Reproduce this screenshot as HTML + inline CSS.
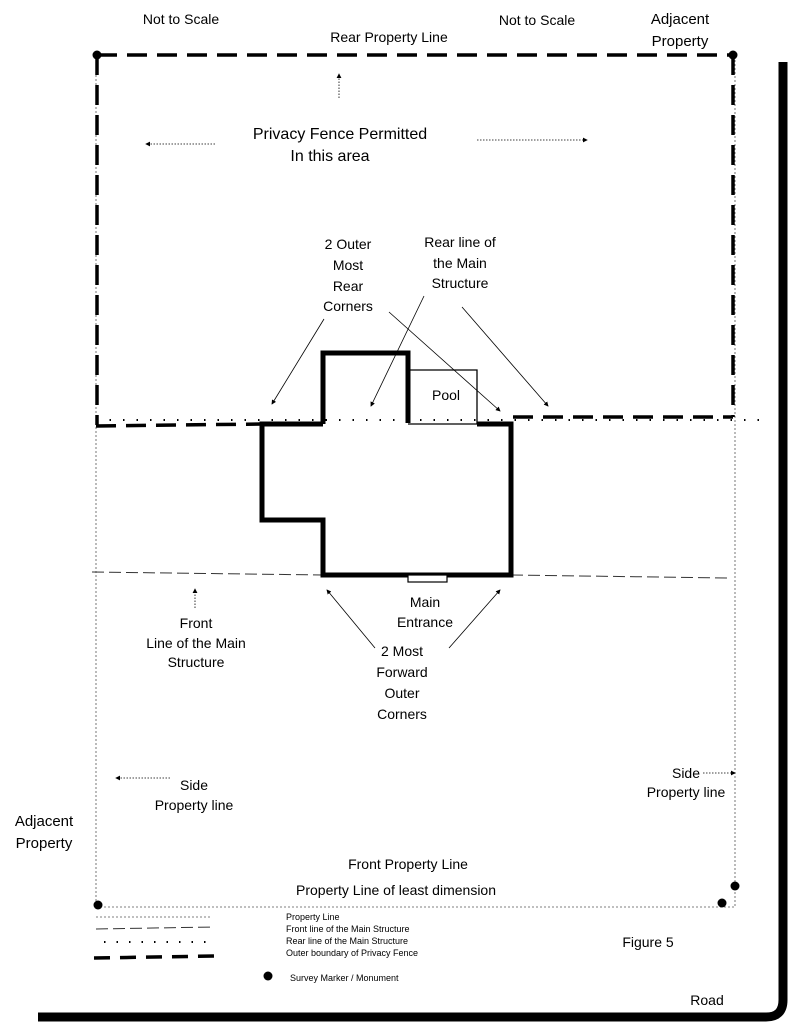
<!DOCTYPE html>
<html><head><meta charset="utf-8"><style>
html,body{margin:0;padding:0;background:#fff;}
svg{display:block;font-family:"Liberation Sans",sans-serif;}
</style></head><body>
<svg width="796" height="1024" viewBox="0 0 796 1024" xmlns="http://www.w3.org/2000/svg">
<defs>
<marker id="a" markerWidth="6" markerHeight="6" refX="5" refY="3" orient="auto"><path d="M0,0 L6,3 L0,6z" fill="#000"/></marker>
</defs>
<g fill="#000" font-size="14" text-anchor="middle">
<text x="181" y="24">Not to Scale</text>
<text x="389" y="42">Rear Property Line</text>
<text x="537" y="25">Not to Scale</text>
<text x="680" y="24" font-size="15">Adjacent</text>
<text x="680" y="46" font-size="15">Property</text>
<text x="340" y="139" font-size="16">Privacy Fence Permitted</text>
<text x="330" y="161" font-size="16">In this area</text>
<text x="348" y="249">2 Outer</text>
<text x="348" y="270">Most</text>
<text x="348" y="291">Rear</text>
<text x="348" y="311">Corners</text>
<text x="460" y="247">Rear line of</text>
<text x="460" y="268">the Main</text>
<text x="460" y="288">Structure</text>
<text x="446" y="400">Pool</text>
<text x="425" y="607">Main</text>
<text x="425" y="627">Entrance</text>
<text x="196" y="628">Front</text>
<text x="196" y="648">Line of the Main</text>
<text x="196" y="667">Structure</text>
<text x="402" y="656">2 Most</text>
<text x="402" y="677">Forward</text>
<text x="402" y="698">Outer</text>
<text x="402" y="719">Corners</text>
<text x="194" y="790">Side</text>
<text x="194" y="810">Property line</text>
<text x="686" y="778">Side</text>
<text x="686" y="797">Property line</text>
<text x="44" y="826" font-size="15">Adjacent</text>
<text x="44" y="848" font-size="15">Property</text>
<text x="408" y="869">Front Property Line</text>
<text x="396" y="895">Property Line of least dimension</text>
<text x="648" y="947">Figure 5</text>
<text x="707" y="1005">Road</text>
</g>
<g fill="#000" font-size="9">
<text x="286" y="920">Property Line</text>
<text x="286" y="932">Front line of the Main Structure</text>
<text x="286" y="944">Rear line of the Main Structure</text>
<text x="286" y="956">Outer boundary of  Privacy Fence</text>
<text x="290" y="981">Survey Marker / Monument</text>
</g>
<!-- property line -->
<g stroke="#555" stroke-width="0.8" stroke-dasharray="2,2" fill="none">
<path d="M96 55 V907 H735 V55"/>
<path d="M96 917 H212"/>
</g>
<!-- fence -->
<g stroke="#000" stroke-width="3.5" stroke-dasharray="20,10" fill="none">
<path d="M97 55 H733"/>
<path d="M97 55 V425"/>
<path d="M733 55 V417"/>
<path d="M96 426 L262 424"/>
<path d="M513 417 L733 417"/>
<path d="M94 958 L215 956" stroke-dasharray="16,10"/>
</g>
<!-- rear line dotted -->
<path d="M96 420 H762" stroke="#000" stroke-width="2" stroke-dasharray="1.5,12" fill="none"/>
<path d="M104 942 H215" stroke="#000" stroke-width="2" stroke-dasharray="1.5,11" fill="none"/>
<!-- front line -->
<g stroke="#333" stroke-width="1" stroke-dasharray="12,5" fill="none">
<path d="M92 572 L323 575"/>
<path d="M511 575 L728 578"/>
<path d="M96 929 L214 927"/>
</g>
<!-- structure -->
<path d="M323 424 V353 H408 V423 M477 424 H511 V575 H323 V520 H262 V424 H323" stroke="#000" stroke-width="5" fill="none"/>
<path d="M408 370 H477 V424 H408" stroke="#000" stroke-width="1.3" fill="none"/>
<rect x="408" y="575" width="39" height="7" stroke="#000" stroke-width="1.2" fill="#fff"/>
<!-- road -->
<path d="M783 62 V1000 Q783 1017 766 1017 H38" stroke="#000" stroke-width="9" fill="none"/>
<!-- markers -->
<g fill="#000">
<circle cx="97" cy="55" r="4.5"/><circle cx="733" cy="55" r="4.5"/>
<circle cx="98" cy="905" r="4.5"/><circle cx="735" cy="886" r="4.5"/>
<circle cx="722" cy="903" r="4.5"/><circle cx="268" cy="976" r="4.5"/>
</g>
<!-- arrows -->
<g stroke="#000" stroke-width="0.8" fill="none" marker-end="url(#a)">
<path d="M339 98 V74" stroke-dasharray="1.5,1.5"/>
<path d="M215 144 H146" stroke-dasharray="1.5,1.5"/>
<path d="M477 140 H587" stroke-dasharray="1.5,1.5"/>
<path d="M324 319 L272 404"/>
<path d="M389 312 L500 411"/>
<path d="M424 296 L371 406"/>
<path d="M462 307 L548 406"/>
<path d="M195 608 V589" stroke-dasharray="1.5,1.5"/>
<path d="M375 648 L327 590"/>
<path d="M449 648 L500 590"/>
<path d="M170 778 H116" stroke-dasharray="1.5,1.5"/>
<path d="M703 773 H735" stroke-dasharray="1.5,1.5"/>
</g>
</svg>
</body></html>
